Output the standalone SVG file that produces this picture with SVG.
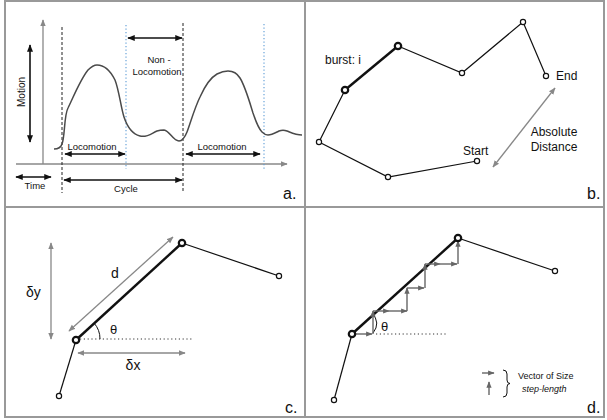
<svg xmlns="http://www.w3.org/2000/svg" width="607" height="420" viewBox="0 0 607 420">
<style>
text{font-family:"Liberation Sans",Arial,sans-serif;fill:#111}
.frame{fill:none;stroke:#999;stroke-width:2}
.blk{stroke:#111;stroke-width:1.6;fill:none}
.gry{stroke:#888;stroke-width:1.3;fill:none}
.stp{stroke:#666;stroke-width:1.4;fill:none}
.dash{stroke:#222;stroke-width:1;stroke-dasharray:3 2;fill:none}
.dotb{stroke:#5b9bd5;stroke-width:1.1;stroke-dasharray:1.3 2.2;fill:none}
.dotk{stroke:#333;stroke-width:1;stroke-dasharray:1.2 2.6;fill:none}
.edge{stroke:#111;stroke-width:1.2;fill:none}
.bold{stroke:#111;stroke-width:2.4;fill:none}
.n{fill:#fff;stroke:#111;stroke-width:1.2}
.nb{fill:#fff;stroke:#111;stroke-width:2.2}
.lbl{font-size:16px}
</style>
<defs>
<marker id="mk" viewBox="0 0 10 10" refX="9" refY="5" markerWidth="7.5" markerHeight="7.5" markerUnits="userSpaceOnUse" orient="auto-start-reverse"><path d="M0,1 L10,5 L0,9 z" fill="#111"/></marker>
<marker id="mg" viewBox="0 0 10 10" refX="9" refY="5" markerWidth="7" markerHeight="7" markerUnits="userSpaceOnUse" orient="auto-start-reverse"><path d="M0,1 L10,5 L0,9 z" fill="#888"/></marker>
<marker id="ms" viewBox="0 0 10 10" refX="9" refY="5" markerWidth="6.5" markerHeight="6.5" markerUnits="userSpaceOnUse" orient="auto-start-reverse"><path d="M0,1 L10,5 L0,9 z" fill="#666"/></marker>
</defs>
<rect x="0" y="0" width="607" height="420" fill="#fff"/>
<g id="frame">
<rect class="frame" x="5" y="1" width="599" height="416"/>
<line class="frame" x1="305" y1="1" x2="305" y2="417"/>
<line class="frame" x1="5" y1="207" x2="604" y2="207"/>
</g>

<!-- Panel a -->
<g id="panel-a">
<g id="a-connectors">
<line class="gry" x1="43" y1="164" x2="43" y2="20" marker-end="url(#mg)"/>
<line class="gry" x1="16" y1="164" x2="287" y2="164" marker-end="url(#mg)"/>
<line class="blk" x1="30" y1="45" x2="30" y2="142" marker-start="url(#mk)" marker-end="url(#mk)"/>
<line class="blk" x1="16" y1="177" x2="51" y2="177" marker-start="url(#mk)" marker-end="url(#mk)"/>
<line class="dash" x1="62" y1="27" x2="62" y2="193"/>
<line class="dash" x1="183" y1="23" x2="183" y2="193"/>
<line class="dotb" x1="126" y1="25" x2="126" y2="169"/>
<line class="dotb" x1="264" y1="24" x2="264" y2="169"/>
<line class="blk" x1="128" y1="38" x2="182" y2="38" marker-start="url(#mk)" marker-end="url(#mk)"/>
<line class="blk" x1="65" y1="154" x2="125" y2="154" marker-start="url(#mk)" marker-end="url(#mk)"/>
<line class="blk" x1="186" y1="154" x2="260" y2="154" marker-start="url(#mk)" marker-end="url(#mk)"/>
<line class="blk" x1="64" y1="180" x2="182" y2="180" marker-start="url(#mk)" marker-end="url(#mk)"/>
</g>
<path id="a-curve" d="M54,149 C58,149 61,147 62,144 C65,137 64,115 68,108 C73,98 80,80 88,70 C92,66 95,65 97,65 C104,65 110,70 115,80 C119,90 121,108 124,117 C127,126 132,134 140,136 C147,138 152,133 157,131 C160,130 162,130 164,130 C170,131 173,141 179,141 C183,141 185,137 187,132 C190,124 195,107 200,97 C204,88 210,78 217,74 C221,72 224,71 228,71 C233,71 237,73 240,78 C245,86 249,100 253,113 C256,122 258,128 262,132 C264,134 266,135 268,135 C272,135 275,133 279,131 C282,130 284,130 287,131 C292,133 296,135 302,135" fill="none" stroke="#4a4a4a" stroke-width="1.5"/>
<text x="24.5" y="92" font-size="10" text-anchor="middle" transform="rotate(-90 24.5 92)">Motion</text>
<text x="35" y="189" font-size="9.5" text-anchor="middle">Time</text>
<text x="159" y="63" font-size="9.5" text-anchor="middle">Non -</text>
<text x="157" y="75" font-size="9.5" text-anchor="middle">Locomotion</text>
<text x="92" y="150" font-size="9.5" text-anchor="middle">Locomotion</text>
<text x="222" y="150" font-size="9.5" text-anchor="middle">Locomotion</text>
<text x="126" y="192" font-size="9.5" text-anchor="middle">Cycle</text>
<text class="lbl" x="283" y="199">a.</text>
</g>

<!-- Panel b -->
<g id="panel-b">
<g id="b-connectors">
<polyline class="edge" points="477,161 388,177 319,142 345,90"/>
<line class="bold" x1="345" y1="90" x2="398" y2="46"/>
<polyline class="edge" points="398,46 462,73 523,22 546,76"/>
<line class="gry" x1="493" y1="167" x2="555" y2="88" marker-start="url(#mg)" marker-end="url(#mg)"/>
</g>
<g id="b-start"><circle class="n" cx="477" cy="161" r="2.6"/></g>
<g id="b-p1"><circle class="n" cx="388" cy="177" r="2.6"/></g>
<g id="b-p2"><circle class="n" cx="319" cy="142" r="2.6"/></g>
<g id="b-p3"><circle class="nb" cx="345" cy="90" r="3.2"/></g>
<g id="b-p4"><circle class="nb" cx="398" cy="46" r="3.2"/></g>
<g id="b-p5"><circle class="n" cx="462" cy="73" r="2.6"/></g>
<g id="b-p6"><circle class="n" cx="523" cy="22" r="2.6"/></g>
<g id="b-end"><circle class="n" cx="546" cy="76" r="2.6"/></g>
<text x="325" y="64" font-size="12">burst: i</text>
<text x="556" y="80" font-size="12">End</text>
<text x="463" y="155" font-size="12">Start</text>
<text x="554" y="136" font-size="12" text-anchor="middle">Absolute</text>
<text x="554" y="151" font-size="12" text-anchor="middle">Distance</text>
<text class="lbl" x="587" y="199">b.</text>
</g>

<!-- Panel c -->
<g id="panel-c">
<g id="c-connectors">
<line class="edge" x1="59" y1="396" x2="76" y2="340"/>
<line class="bold" x1="76" y1="340" x2="182" y2="243"/>
<line class="edge" x1="182" y1="243" x2="279" y2="276"/>
<line class="gry" x1="51" y1="243" x2="51" y2="339" marker-start="url(#mg)" marker-end="url(#mg)"/>
<line class="gry" x1="69" y1="331" x2="173" y2="237" marker-start="url(#mg)" marker-end="url(#mg)"/>
<line class="gry" x1="78" y1="353" x2="185" y2="353" marker-start="url(#mg)" marker-end="url(#mg)"/>
<line class="dotk" x1="80" y1="339" x2="193" y2="339"/>
<path d="M94,323 A24,24 0 0 1 100,339" fill="none" stroke="#111" stroke-width="1"/>
</g>
<g id="c-a"><circle class="nb" cx="76" cy="340" r="3.2"/></g>
<g id="c-b"><circle class="nb" cx="182" cy="243" r="3.2"/></g>
<g id="c-c"><circle class="n" cx="279" cy="276" r="2.6"/></g>
<g id="c-d"><circle class="n" cx="59" cy="396" r="2.6"/></g>
<text x="26" y="297" font-size="14">δy</text>
<text x="111" y="278" font-size="14">d</text>
<text x="110" y="334" font-size="13">θ</text>
<text x="133" y="370" font-size="14" text-anchor="middle">δx</text>
<text class="lbl" x="285" y="413">c.</text>
</g>

<!-- Panel d -->
<g id="panel-d">
<g id="d-connectors">
<line class="edge" x1="334" y1="400" x2="352" y2="334"/>
<line class="bold" x1="352" y1="334" x2="458" y2="238"/>
<line class="edge" x1="458" y1="238" x2="555" y2="271"/>
<line class="dotk" x1="376" y1="334" x2="448" y2="334"/>
<path d="M372,313 Q381,323 373,333" fill="none" stroke="#111" stroke-width="1"/>
<g id="d-steps">
<line class="stp" x1="354" y1="334" x2="372" y2="334" marker-end="url(#ms)"/>
<line class="stp" x1="373" y1="334" x2="373" y2="311" marker-end="url(#ms)"/>
<line class="stp" x1="373" y1="311" x2="389" y2="311" marker-end="url(#ms)"/>
<line class="stp" x1="389" y1="311" x2="407" y2="311" marker-end="url(#ms)"/>
<line class="stp" x1="407" y1="311" x2="407" y2="288" marker-end="url(#ms)"/>
<line class="stp" x1="407" y1="288" x2="424" y2="288" marker-end="url(#ms)"/>
<line class="stp" x1="425" y1="288" x2="425" y2="264" marker-end="url(#ms)"/>
<line class="stp" x1="425" y1="264" x2="440" y2="264" marker-end="url(#ms)"/>
<line class="stp" x1="440" y1="264" x2="457" y2="264" marker-end="url(#ms)"/>
<line class="stp" x1="458" y1="264" x2="458" y2="241" marker-end="url(#ms)"/>
</g>
</g>
<g id="d-a"><circle class="nb" cx="352" cy="334" r="3.2"/></g>
<g id="d-b"><circle class="nb" cx="458" cy="238" r="3.2"/></g>
<g id="d-c"><circle class="n" cx="555" cy="271" r="2.6"/></g>
<g id="d-d"><circle class="n" cx="334" cy="400" r="2.6"/></g>
<text x="381" y="331" font-size="13">θ</text>
<g id="d-legend">
<line class="stp" x1="482" y1="373" x2="494" y2="373" marker-end="url(#ms)"/>
<line class="stp" x1="489" y1="395" x2="489" y2="382" marker-end="url(#ms)"/>
<path d="M503,370 Q507,370 507,374 L507,380 Q507,383.5 510,383.5 Q507,383.5 507,387 L507,393 Q507,397 503,397" fill="none" stroke="#111" stroke-width="1"/>
<text x="518" y="379" font-size="9">Vector of Size</text>
<text x="522" y="392" font-size="9" font-style="italic">step-length</text>
</g>
<text class="lbl" x="587" y="413">d.</text>
</g>
</svg>
